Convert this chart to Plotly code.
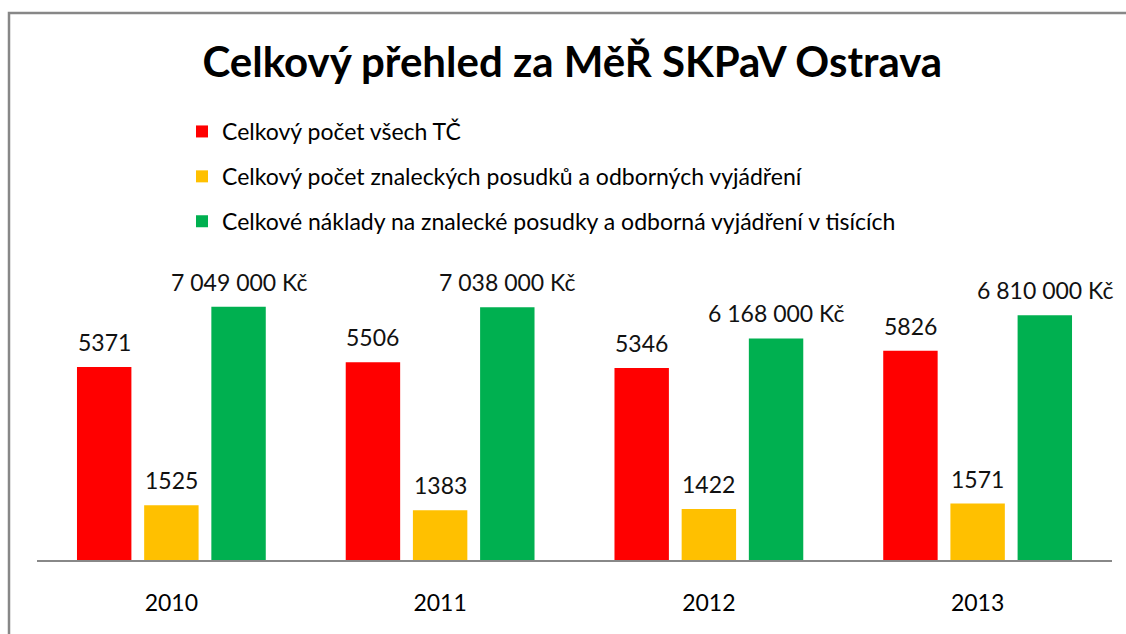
import plotly.graph_objects as go

years = ["2010", "2011", "2012", "2013"]
tc_counts = [5371, 5506, 5346, 5826]
expert_counts = [1525, 1383, 1422, 1571]
costs_thousands = [7049, 7038, 6168, 6810]
cost_labels = ["7 049 000 Kč", "7 038 000 Kč", "6 168 000 Kč", "6 810 000 Kč"]

series_names = [
    "Celkový počet všech TČ",
    "Celkový počet znaleckých posudků a odborných vyjádření",
    "Celkové náklady na znalecké posudky a odborná vyjádření v tisících",
]
colors = ["#FF0000", "#FFC000", "#00B050"]

FONT = "Lato"
W, H = 1126, 634
ml, mr, mt, mb = 37, 14, 250, 74
pw, ph = W - ml - mr, H - mt - mb
BARGAP = 0.25
slot_px = pw / len(years) * (1 - BARGAP) / 3

fig = go.Figure()
series = [
    (tc_counts, [str(v) for v in tc_counts]),
    (expert_counts, [str(v) for v in expert_counts]),
    (costs_thousands, cost_labels),
]
annotations = []
for i, (vals, labels) in enumerate(series):
    fig.add_trace(go.Bar(x=years, y=vals, name=series_names[i], marker_color=colors[i],
                         legendgroup=f"g{i}", hoverinfo="skip", marker_line_width=0))
    # annotation x given as category index (numeric-looking category names would be read as indices)
    for j, (v, lab) in enumerate(zip(vals, labels)):
        annotations.append(dict(x=j, y=v, xref="x", yref="y", text=lab, showarrow=False,
                                yanchor="bottom", xanchor="center", yshift=9,
                                xshift=(i - 1) * slot_px,
                                font=dict(family=FONT, size=23, color="#111111")))

def px_to_paper_x(px):
    return (px - ml) / pw

def px_to_paper_y(py):
    return (H - mb - py) / ph

fig.update_layout(
    width=W, height=H,
    margin=dict(l=ml, r=mr, t=mt, b=mb),
    paper_bgcolor="white", plot_bgcolor="white",
    barmode="group", bargap=BARGAP, bargroupgap=0.19,
    title=dict(text="<b>Celkový přehled za MěŘ SKPaV Ostrava</b>",
               font=dict(family=FONT, size=42, color="#000000"),
               x=0.498, xanchor="center", xref="paper",
               y=1 - 62 / H, yanchor="middle", yref="container"),
    legend=dict(x=px_to_paper_x(182), xanchor="left", y=px_to_paper_y(110), yanchor="top",
                font=dict(family=FONT, size=23, color="#000000"),
                tracegroupgap=12, bgcolor="rgba(0,0,0,0)", traceorder="grouped"),
    showlegend=True,
    annotations=annotations,
    xaxis=dict(type="category", range=[-0.5, len(years) - 0.5], showline=True,
               linecolor="#888888", linewidth=1.5, ticks="",
               tickfont=dict(family=FONT, size=23, color="#000000"),
               ticklabelstandoff=22, showgrid=False, zeroline=False),
    yaxis=dict(range=[0, 8628], visible=False, showgrid=False, zeroline=False),
    shapes=[dict(type="rect", xref="paper", yref="paper",
                 x0=px_to_paper_x(9), x1=px_to_paper_x(1140),
                 y0=px_to_paper_y(650), y1=px_to_paper_y(13),
                 line=dict(color="#878787", width=2.5), fillcolor="rgba(0,0,0,0)", layer="below")],
)

fig.write_html("out.html", config={"displayModeBar": False},
               post_script="document.body.style.margin='0';")
